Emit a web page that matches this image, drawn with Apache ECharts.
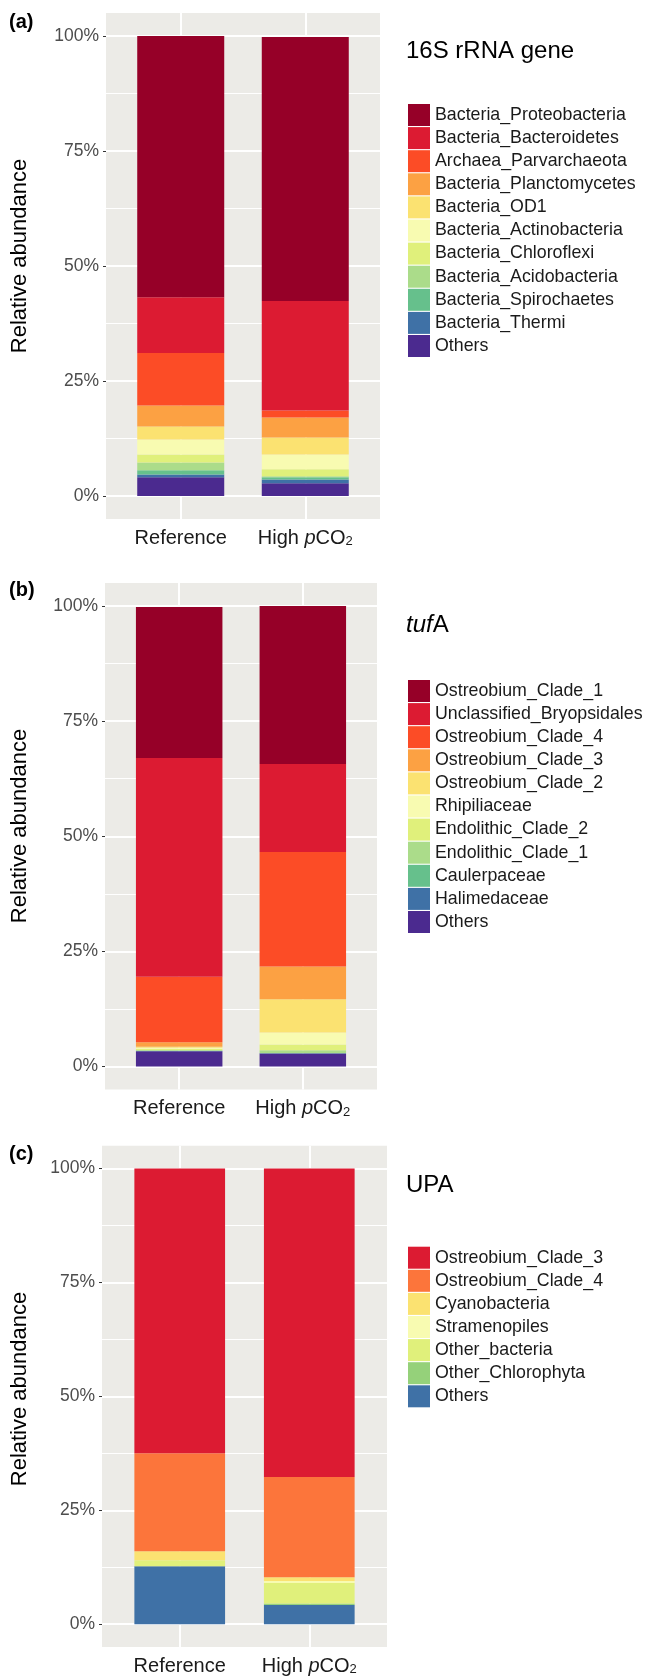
<!DOCTYPE html>
<html>
<head>
<meta charset="utf-8">
<script src="https://cdn.jsdelivr.net/npm/echarts@6/dist/echarts.min.js"></script>
<style>
    body { margin: 0; background: #fff; }
    .panel { position: absolute; left: 0; width: 646px; }
</style>
</head>
<body>
<div class="panel" id="panel-a" style="top:0;height:560px"></div>
<div class="panel" id="panel-b" style="top:560px;height:560px"></div>
<div class="panel" id="panel-c" style="top:1120px;height:556px"></div>
<script>

const categories = ['Reference', 'High pCO2'];
const yTicks = [0, 25, 50, 75, 100];

// (a) 16S rRNA gene, legend order (top of the stack first)
const taxa16S = ['Bacteria_Proteobacteria', 'Bacteria_Bacteroidetes', 'Archaea_Parvarchaeota', 'Bacteria_Planctomycetes', 'Bacteria_OD1', 'Bacteria_Actinobacteria', 'Bacteria_Chloroflexi', 'Bacteria_Acidobacteria', 'Bacteria_Spirochaetes', 'Bacteria_Thermi', 'Others'];
const ref16S = [56.8, 12.1, 11.45, 4.55, 2.8, 3.3, 1.7, 1.7, 0.9, 0.65, 4.05];
const high16S = [57.4, 23.8, 1.55, 4.35, 3.7, 3.2, 1.5, 0.2, 0.5, 0.85, 2.75];
const colors16S = ['#960028', '#dc1b32', '#fc4c26', '#fca143', '#fbe271', '#f8fbb1', '#e0f07b', '#abdc8a', '#66c08c', '#3f71a6', '#4b2a8f'];

// (b) tufA
const taxaTufA = ['Ostreobium_Clade_1', 'Unclassified_Bryopsidales', 'Ostreobium_Clade_4', 'Ostreobium_Clade_3', 'Ostreobium_Clade_2', 'Rhipiliaceae', 'Endolithic_Clade_2', 'Endolithic_Clade_1', 'Caulerpaceae', 'Halimedaceae', 'Others'];
const refTufA = [32.8, 47.5, 14.23, 1.01, 0.21, 0.22, 0.23, 0.2, 0.05, 0.05, 3.3];
const highTufA = [34.3, 19.1, 24.9, 7.1, 7.2, 2.6, 1.3, 0.6, 0.05, 0.05, 2.8];
const colorsTufA = ['#960028', '#dc1b32', '#fc4c26', '#fca143', '#fbe271', '#f8fbb1', '#e0f07b', '#abdc8a', '#66c08c', '#3f71a6', '#4b2a8f'];

// (c) UPA
const taxaUPA = ['Ostreobium_Clade_3', 'Ostreobium_Clade_4', 'Cyanobacteria', 'Stramenopiles', 'Other_bacteria', 'Other_Chlorophyta', 'Others'];
const refUPA = [62.5, 21.5, 1.96, 0, 1.31, 0, 12.73];
const highUPA = [67.7, 21.97, 0.87, 0.43, 4.51, 0.29, 4.23];
const colorsUPA = ['#dc1b32', '#fc753b', '#fbe271', '#f8fbb1', '#e0f07b', '#95d17a', '#3f71a6'];

const FONT = '"Liberation Sans", Arial, sans-serif';

const gridLines = () => {
    const lines = [];
    for (let v = 0; v <= 100; v += 12.5) {
        lines.push({ yAxis: v, lineStyle: { width: v % 25 === 0 ? 2 : 1.1 } });
    }
    lines.push({ xAxis: 1, lineStyle: { width: 2 } });
    lines.push({ xAxis: 2, lineStyle: { width: 2 } });
    return lines;
};

const renderPanel = (p) => {

    const chart = echarts.init(document.getElementById(p.id));

    // stack from the bottom: last legend entry first.
    // value first in each pair so ECharts stacks the y dimension
    const series = p.taxa.map((name, i) => ({
        name: name,
        type: 'bar',
        stack: 'total',
        z: 10,
        barWidth: p.barWidth,
        itemStyle: { color: p.colors[i] },
        encode: { x: 1, y: 0 },
        data: [[p.ref[i], 1], [p.high[i], 2]],
    })).reverse();

    series[0].markLine = {
        silent: true,
        symbol: 'none',
        animation: false,
        label: { show: false },
        lineStyle: { color: '#ffffff', type: 'solid' },
        data: gridLines(),
    };

    chart.setOption({
        animation: false,
        grid: {
            left: p.grid.left,
            top: p.grid.top,
            width: p.grid.width,
            height: p.grid.height,
            show: true,
            backgroundColor: '#ecebe7',
            borderWidth: 0,
        },
        xAxis: {
            type: 'value',
            min: 0.4,
            max: 2.6,
            axisLine: { show: false },
            axisTick: { show: false },
            splitLine: { show: false },
            axisLabel: {
                customValues: [1, 2],
                margin: 9,
                fontSize: 20,
                fontFamily: FONT,
                color: '#1a1a1a',
                formatter: (v) => categories[v - 1].replace('pCO2', '{i|p}CO{s|2}'),
                rich: {
                    i: { fontSize: 20, fontFamily: FONT, fontStyle: 'italic', color: '#1a1a1a' },
                    s: { fontSize: 13, fontFamily: FONT, color: '#1a1a1a', verticalAlign: 'bottom' },
                },
            },
        },
        yAxis: {
            type: 'value',
            min: -5,
            max: 105,
            axisLine: { show: false },
            splitLine: { show: false },
            axisTick: {
                show: true,
                customValues: yTicks,
                length: 3,
                lineStyle: { color: '#333', width: 1 },
            },
            axisLabel: {
                customValues: yTicks,
                margin: 7,
                fontSize: 17.5,
                fontFamily: FONT,
                color: '#4d4d4d',
                formatter: (v) => `${v}%`,
            },
        },
        legend: {
            orient: 'vertical',
            left: 408,
            top: p.legendTop,
            padding: 0,
            icon: 'rect',
            itemWidth: 22,
            itemHeight: 22,
            itemGap: 1.1,
            selectedMode: false,
            textStyle: { fontSize: 17.8, fontFamily: FONT, color: '#1a1a1a' },
            data: p.taxa,
        },
        graphic: [
            {
                type: 'text',
                x: 9,
                y: p.letterY,
                style: { text: p.letter, fontSize: 20, fontWeight: 'bold', fontFamily: FONT, fill: '#000', verticalAlign: 'middle' },
            },
            {
                type: 'text',
                x: 20,
                y: p.yTitleY,
                rotation: Math.PI / 2,
                style: { text: 'Relative abundance', fontSize: 22, fontFamily: FONT, fill: '#000', align: 'center', verticalAlign: 'middle' },
            },
            {
                type: 'text',
                x: 406,
                y: p.titleY,
                style: {
                    text: p.title,
                    fontSize: 24,
                    fontFamily: FONT,
                    fill: '#000',
                    verticalAlign: 'middle',
                    rich: { i: { fontSize: 24, fontFamily: FONT, fontStyle: 'italic', fill: '#000' } },
                },
            },
        ],
        series: series,
    });
};

renderPanel({
    id: 'panel-a', letter: '(a)', title: '16S rRNA gene',
    taxa: taxa16S, ref: ref16S, high: high16S, colors: colors16S,
    grid: { left: 106, top: 13, width: 274, height: 506 }, barWidth: 87,
    legendTop: 104, titleY: 51, letterY: 22, yTitleY: 256,
});

renderPanel({
    id: 'panel-b', letter: '(b)', title: '{i|tuf}A',
    taxa: taxaTufA, ref: refTufA, high: highTufA, colors: colorsTufA,
    grid: { left: 105, top: 23, width: 272, height: 506.5 }, barWidth: 86.5,
    legendTop: 120, titleY: 65, letterY: 30, yTitleY: 266,
});

renderPanel({
    id: 'panel-c', letter: '(c)', title: 'UPA',
    taxa: taxaUPA, ref: refUPA, high: highUPA, colors: colorsUPA,
    grid: { left: 102, top: 25.7, width: 285, height: 504.7 }, barWidth: 90.7,
    legendTop: 126.7, titleY: 65, letterY: 34, yTitleY: 269,
});

</script>
</body>
</html>
